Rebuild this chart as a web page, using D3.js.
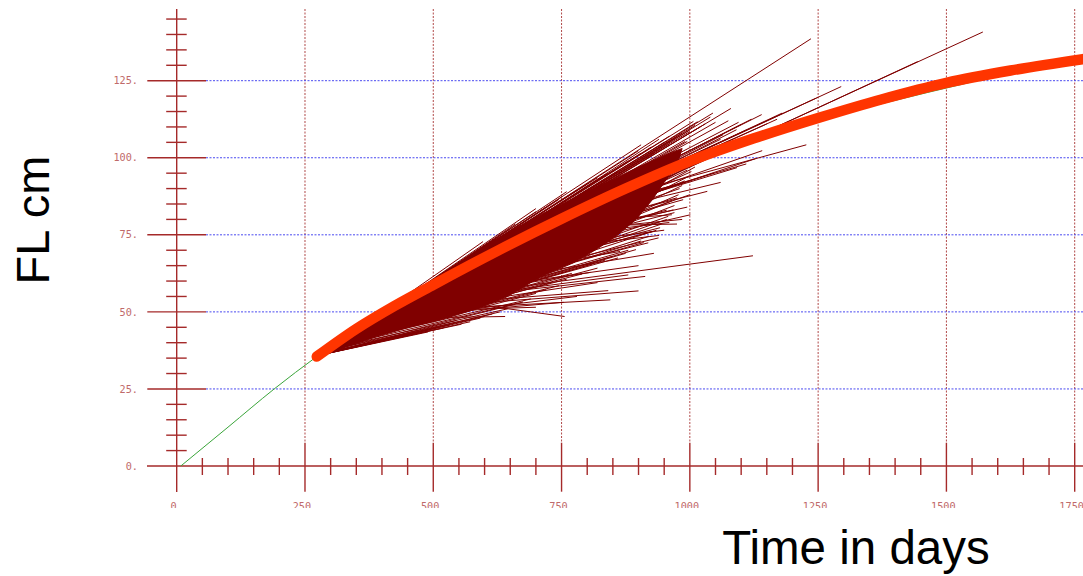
<!DOCTYPE html>
<html><head><meta charset="utf-8">
<script src="https://cdn.jsdelivr.net/npm/d3@7"></script>
<style>body{margin:0;background:#fff;overflow:hidden}svg{display:block}</style>
</head><body>
<svg id="chart" width="1083" height="576"></svg>
<script>
// ---- data ----
const xTickValues = [0, 250, 500, 750, 1000, 1250, 1500, 1750];
const xTickLabels = ["0.", "250.", "500.", "750.", "1000.", "1250.", "1500.", "1750."];
const yTickValues = [0, 25, 50, 75, 100, 125];
const yTickLabels = ["0.", "25.", "50.", "75.", "100.", "125."];

// fitted growth curve (red)
const curveDays = [273, 350, 425, 500, 625, 750, 875, 1000, 1125, 1250, 1375, 1500, 1625, 1766];
const curveLen  = [35.5, 44.5, 52, 58.8, 69.8, 80.2, 90, 98.9, 106.3, 112.9, 119, 124.3, 128.3, 132];
// reference growth curve (green)
const greenDays = [8, 100, 190, 273, 350, 425, 500, 625, 750, 875, 1000, 1125, 1250, 1375, 1550];
const greenLen  = [0, 12.6, 25, 35.5, 44.4, 51.9, 58.7, 69.6, 80, 89.7, 98.6, 105.9, 112.3, 117.6, 124.6];

// dense core of overlapping tag-recapture increments (outline)
const coreDays = [275, 425, 480, 530, 600, 700, 800, 900, 960, 985, 975, 950, 925, 895, 860, 820, 773, 709, 644, 578, 513, 455, 390, 292];
const coreLen  = [36, 52.5, 57.5, 63.5, 71.5, 80.8, 89, 97, 101.5, 103, 98, 92, 86, 80, 75, 70.5, 65.9, 61.4, 54.9, 50.6, 47.4, 45.1, 42, 36.5];

// individual increments: release (days, cm) -> recapture (days, cm)
const relDays = [285,430,430,600,620,285,285,285,285,285,285,285,285,400,450,480,500,
  300,320,340,360,380,420,450,470,500,520,540,330,300,600,650,700,
  700,720,800,760,700,500,700,680,700,640,650,690,650,620,560,520,520,470,513,540,560,600,290,640,
  285,285,285,285,290,300,320,350,380,420,450,480,520,560,600,280,280,300,
  700,720,680,650,750,
  290,295,310,300,320,340,360,390,410,440,460,490,510,530,560,580,620,650,680,720,760,800,840,300,330,350,400,450,500,560,
  285,285,285,290,295,300,310,320,330,340,360,380,400,420,440,460,480,500,520,540,560,590,620,650,680,700,720,740,760,780,
  500,480,520,560,600,640,450,760,740,780,
  760,780,800,820,840,780,800,760,740,820,850,700,720,760,790];
const relLen  = [36.5,53.5,53,69.5,71.5,36.5,36.5,36.5,36.5,36.5,36.5,36.5,36.5,49,54,57,58.8,
  38.5,40.5,43,45,47,51.5,54.5,56,58.5,60.5,62,42,38.5,69,73,77,
  76,78,84.8,80,75,54.5,70,70,73,62,64,72,65,60,55,52,51,49,54,53,56,62,36.5,63,
  36.3,36.3,36.3,36.3,36.6,37.5,39.5,42,44.5,47,49,51,54,57,61,36,36,37,
  78,80,75,72,82,
  37,37.5,39,38,40,42.5,44.5,47.5,50,53,55,58,60,61.5,64.5,66.5,70.5,73,75.5,79,82,85,88,38,41.5,43.5,49,54,59,64,
  36.2,36.2,36.2,36.4,36.8,37.2,38,38.8,39.5,40.5,42,43.5,45,46.5,47.5,48.5,50,51,52.5,54,55.5,58,60.5,63,66,68,70,72,74,76,
  50.5,49,52,55,58,61,48,80,78,82,
  74,76,77,78,80,78,81,75,72,82,85,70,73,77,79];
const recDays = [1236,1571,1444,1295,1247,597,751,640,650,905,1040,1015,1007,995,991,1065,1091,
  560,620,680,720,780,860,930,960,940,985,1000,700,820,1060,1110,1170,
  1128,1141,1227,1092,1034,1123,1001,970,987,939,929,968,942,919,913,900,845,754,756,841,806,864,491,926,
  436,533,572,592,630,660,700,730,770,810,850,880,910,955,965,470,510,545,
  980,990,960,950,1010,
  540,580,610,660,745,800,840,880,905,925,950,975,1000,1020,1030,1050,1075,1095,1120,1140,1100,1180,1150,700,760,900,960,1010,1045,1080,
  400,455,490,520,555,600,615,645,675,690,720,745,760,790,820,835,860,875,895,905,920,935,945,958,970,978,985,998,1010,1020,
  700,780,820,880,900,930,640,1060,1045,1110,
  1000,995,985,975,965,990,995,960,950,1003,1008,940,955,975,980];
const recLen  = [138.6,140.8,131.2,123.1,119.4,72.8,87.4,75,77,104.2,113.2,111.7,111.8,105.3,105.3,107.5,109.1,
  66,73.5,79.5,84,89.5,95.5,101.5,104.5,106,108,109,82.5,93.5,106,109,112.5,
  99.7,102.3,104.2,96.8,89.1,68.2,81.5,82.2,86.4,74,76.1,83.1,77.3,72.4,61.5,56.8,53.9,53.1,48.5,56.9,62.8,69.6,44.2,76.1,
  42.2,45.8,46.8,48,50,52.5,56,59.5,62.5,65.5,68,70,72.5,80,86,44,45,47.2,
  97,92,94,90,101,
  63.5,67.8,72,78.5,86.5,91.5,95,99,101.5,103.5,105,106.8,108.5,110,111,111.5,112,111.5,112.5,114,110.8,114.5,111,83.5,89,102.3,107,110.5,114.5,116,
  40.5,43,43.5,44.8,46,48.5,49.3,51,53.2,54.2,57.2,58.5,60.6,62.3,64.2,66.8,67.5,69,70.2,73,74.5,76.5,78.5,81,84.5,88,91,94,97,99.5,
  51.5,55,59.5,62,65,69,48.5,92,95,98,
  88,84,80,78.5,81.5,92.5,96,79,76.5,95.5,98.5,74.8,83,87,90];

// ---- drawing ----
const svg = d3.select("#chart");
const W = 1083, H = 576;
const x = d3.scaleLinear().domain([0, 1750]).range([176.7, 1074.7]);
const y = d3.scaleLinear().domain([0, 125]).range([466, 80.7]);

const axisCol = "#a52a2a", labelCol = "#bf6a6a", mono = "'DejaVu Sans Mono', 'Liberation Mono', monospace";

// grid
const g = svg.append("g");
g.selectAll("line.vg").data(xTickValues.filter(v => v > 0)).join("line")
  .attr("x1", d => x(d)).attr("x2", d => x(d)).attr("y1", 9).attr("y2", 442.7)
  .attr("stroke", "#b04848").attr("stroke-width", 1).attr("stroke-dasharray", "2,1.5");
g.selectAll("line.hg").data(yTickValues.filter(v => v > 0)).join("line")
  .attr("x1", 206).attr("x2", W).attr("y1", d => y(d)).attr("y2", d => y(d))
  .attr("stroke", "#4a4af0").attr("stroke-width", 1).attr("stroke-dasharray", "2,1.5");

// axes
const ax = svg.append("g").attr("stroke", axisCol).attr("stroke-width", 1.4);
ax.append("line").attr("x1", x(0)).attr("x2", x(0)).attr("y1", 9).attr("y2", 492);
ax.append("line").attr("x1", 147).attr("x2", W).attr("y1", y(0)).attr("y2", y(0));
const yMinor = d3.range(5, 150, 5).filter(v => v % 25 !== 0);
ax.selectAll("line.ym").data(yMinor).join("line")
  .attr("x1", x(0) - 10.5).attr("x2", x(0) + 10).attr("y1", d => y(d)).attr("y2", d => y(d));
ax.selectAll("line.yM").data(yTickValues.filter(v => v > 0)).join("line")
  .attr("x1", 147.3).attr("x2", 206).attr("y1", d => y(d)).attr("y2", d => y(d));
const xMinor = d3.range(50, 1800, 50).filter(v => v % 250 !== 0);
ax.selectAll("line.xm").data(xMinor).join("line")
  .attr("x1", d => x(d)).attr("x2", d => x(d)).attr("y1", y(0) - 8).attr("y2", y(0) + 9);
ax.selectAll("line.xM").data(xTickValues.filter(v => v > 0)).join("line")
  .attr("x1", d => x(d)).attr("x2", d => x(d)).attr("y1", 442.7).attr("y2", 491.7);

// tick labels
svg.append("g").selectAll("text").data(yTickValues).join("text")
  .attr("x", 138).attr("y", d => y(d)).attr("dy", "0.36em")
  .attr("text-anchor", "end").attr("font-family", mono).attr("font-size", 10.2)
  .attr("fill", labelCol).text((d, i) => yTickLabels[i]);

svg.append("clipPath").attr("id", "xlabclip").append("rect")
  .attr("x", 0).attr("y", 495).attr("width", W).attr("height", 13);
svg.append("g").attr("clip-path", "url(#xlabclip)").selectAll("text").data(xTickValues).join("text")
  .attr("x", d => x(d)).attr("y", 509.6)
  .attr("text-anchor", "middle").attr("font-family", mono).attr("font-size", 10.2)
  .attr("fill", labelCol).text((d, i) => xTickLabels[i]);

// green curve
const line = d3.line().x(d => x(d[0])).y(d => y(d[1])).curve(d3.curveMonotoneX);
svg.append("path").datum(greenDays.map((d, i) => [d, greenLen[i]]))
  .attr("d", line).attr("fill", "none").attr("stroke", "#3aa53a").attr("stroke-width", 1);

// increments
const fan = svg.append("g");
fan.append("path").datum(coreDays.map((d, i) => [d, coreLen[i]]))
  .attr("d", d3.line().x(d => x(d[0])).y(d => y(d[1])).curve(d3.curveLinearClosed))
  .attr("fill", "#800000").attr("stroke", "#800000").attr("stroke-width", 1);
fan.selectAll("line").data(relDays.map((d, i) => i)).join("line")
  .attr("x1", i => x(relDays[i])).attr("y1", i => y(relLen[i]))
  .attr("x2", i => x(recDays[i])).attr("y2", i => y(recLen[i]))
  .attr("stroke", "#800000").attr("stroke-width", 1);

// red fitted curve
svg.append("path").datum(curveDays.map((d, i) => [d, curveLen[i]]))
  .attr("d", line).attr("fill", "none").attr("stroke", "#ff3500")
  .attr("stroke-width", 10.5).attr("stroke-linecap", "round");

// axis titles
svg.append("text").attr("transform", "translate(49,220) rotate(-90)")
  .attr("text-anchor", "middle").attr("font-family", "'Liberation Sans', Arial, sans-serif")
  .attr("font-size", 47).attr("fill", "#000").text("FL cm");
svg.append("text").attr("x", 856).attr("y", 564)
  .attr("text-anchor", "middle").attr("font-family", "'Liberation Sans', Arial, sans-serif")
  .attr("font-size", 47.5).attr("fill", "#000").text("Time in days");
</script>
</body></html>
